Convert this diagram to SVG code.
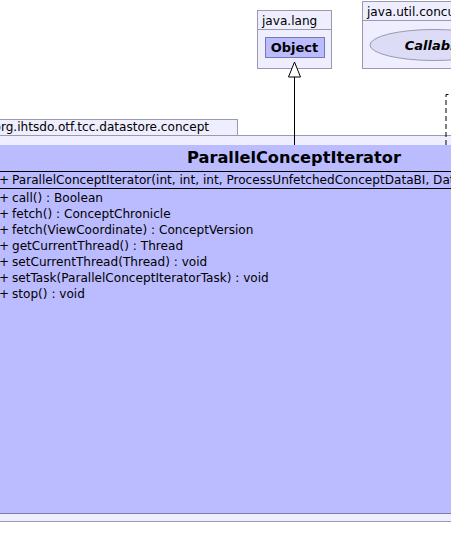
<svg xmlns="http://www.w3.org/2000/svg" width="451" height="559" viewBox="0 0 451 559">
<style>
.pkg{fill:#eeeeff;stroke:#9a9aae;stroke-width:1}
.cls{fill:#bbbbff;stroke:none}
.t{font-family:"DejaVu Sans",sans-serif;font-size:12.1px;fill:#000}
.b{font-family:"DejaVu Sans",sans-serif;font-weight:bold;fill:#000}
.sep{stroke:#000;stroke-width:1}
.edge{fill:none;stroke:#000;stroke-width:1}
</style>
<rect width="451" height="559" fill="#ffffff"/>
<g id="pkg-java-lang">
<rect class="pkg" x="257.5" y="10.5" width="74" height="58"/>
<line x1="257.5" y1="29.5" x2="331.5" y2="29.5" stroke="#9a9aae"/>
<text class="t" x="262" y="25">java.lang</text>
</g>
<g id="node-Object">
<rect x="265.5" y="37.5" width="59" height="20" fill="#bbbbff" stroke="#7a7aa8"/>
<text class="b" x="294.5" y="52" font-size="13" text-anchor="middle">Object</text>
</g>
<g id="pkg-java-util-concurrent">
<rect class="pkg" x="362.5" y="1.5" width="100" height="67"/>
<line x1="362.5" y1="20.5" x2="462.5" y2="20.5" stroke="#9a9aae"/>
<text class="t" x="367" y="16">java.util.concurrent</text>
</g>
<g id="node-Callable">
<ellipse cx="434" cy="45" rx="64" ry="15.5" fill="#dcdcf6" stroke="#9a9aae"/>
<text class="b" x="434" y="50" font-size="13" font-style="italic" text-anchor="middle">Callable</text>
</g>
<g id="pkg-concept">
<rect class="pkg" x="-10.5" y="119.5" width="248" height="16"/>
<rect class="pkg" x="-10.5" y="135.5" width="480" height="386"/>
<text class="t" x="-6.5" y="131">org.ihtsdo.otf.tcc.datastore.concept</text>
</g>
<g id="node-ParallelConceptIterator">
<rect class="cls" x="-10" y="145" width="480" height="368"/>
<line x1="-10" y1="513.5" x2="470" y2="513.5" stroke="#7c7cae"/>
<text class="b" x="294" y="163" font-size="16.2" text-anchor="middle">ParallelConceptIterator</text>
<line class="sep" x1="-10" y1="171.5" x2="470" y2="171.5"/>
<text class="t" x="-1" y="184">+</text>
<text class="t" x="12" y="184">ParallelConceptIterator(int, int, int, ProcessUnfetchedConceptDataBI, Data</text>
<line class="sep" x1="-10" y1="188.5" x2="470" y2="188.5"/>
<text class="t" x="-1" y="202">+</text><text class="t" x="12" y="202">call() : Boolean</text>
<text class="t" x="-1" y="218">+</text><text class="t" x="12" y="218">fetch() : ConceptChronicle</text>
<text class="t" x="-1" y="234">+</text><text class="t" x="12" y="234">fetch(ViewCoordinate) : ConceptVersion</text>
<text class="t" x="-1" y="250">+</text><text class="t" x="12" y="250">getCurrentThread() : Thread</text>
<text class="t" x="-1" y="266">+</text><text class="t" x="12" y="266">setCurrentThread(Thread) : void</text>
<text class="t" x="-1" y="282">+</text><text class="t" x="12" y="282">setTask(ParallelConceptIteratorTask) : void</text>
<text class="t" x="-1" y="298">+</text><text class="t" x="12" y="298">stop() : void</text>
</g>
<g id="connectors">
<line class="edge" x1="294.5" y1="145" x2="294.5" y2="77"/>
<polygon points="294.5,62 288.5,77 300.5,77" fill="#ffffff" stroke="#000"/>
<polyline class="edge" points="446,145 446,94.5 460,94.5" stroke-dasharray="5,3"/>
</g>
</svg>
